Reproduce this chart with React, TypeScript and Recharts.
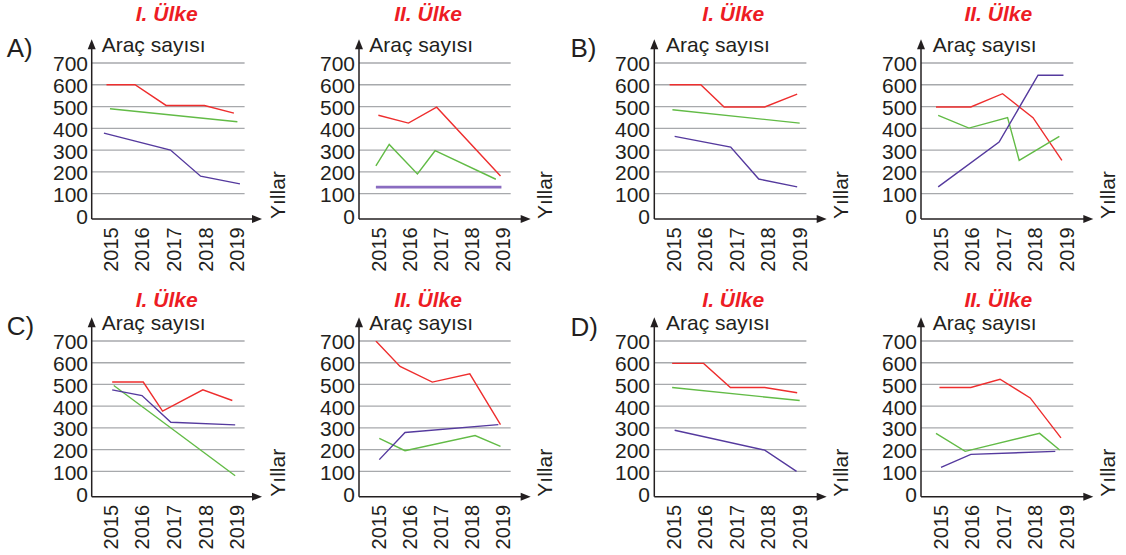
import React from "react";
import { LineChart, Line, XAxis, YAxis, ReferenceLine } from "recharts";

// [yıl, araç sayısı]
const years = [2015, 2016, 2017, 2018, 2019];
const yTicks = [0, 100, 200, 300, 400, 500, 600, 700];
const gridValues = [100, 200, 300, 400, 500, 600, 700];

const aIRed = [[2014.87, 600], [2015.77, 600], [2016.75, 505], [2017.96, 505], [2018.89, 470]];
const aIGreen = [[2014.98, 490], [2019.0, 430]];
const aIPurple = [[2014.79, 378], [2016.89, 300], [2017.84, 180], [2019.08, 145]];

const aIIRed = [[2014.97, 460], [2015.94, 424], [2016.85, 497], [2018.91, 181]];
const aIIGreen = [[2014.89, 227], [2015.32, 326], [2016.23, 190], [2016.8, 297], [2018.76, 166]];
const aIIPurple = [[2014.89, 130], [2018.94, 130]];

const bIRed = [[2014.87, 600], [2015.86, 600], [2016.6, 498], [2017.89, 498], [2018.92, 557]];
const bIGreen = [[2014.96, 485], [2019.0, 424]];
const bIPurple = [[2015.03, 363], [2016.81, 314], [2017.7, 167], [2018.92, 131]];

const bIIRed = [[2014.84, 498], [2015.95, 498], [2016.96, 559], [2017.93, 449], [2018.85, 253]];
const bIIGreen = [[2014.91, 459], [2015.89, 401], [2017.12, 449], [2017.49, 253], [2018.77, 363]];
const bIIPurple = [[2014.91, 131], [2016.85, 337], [2018.09, 644], [2018.9, 644]];

const cIRed = [[2015.05, 511], [2016.03, 511], [2016.64, 377], [2017.91, 475], [2018.84, 426]];
const cIGreen = [[2015.1, 495], [2018.93, 80]];
const cIPurple = [[2015.05, 475], [2015.99, 449], [2016.9, 326], [2018.93, 314]];

const cIIRed = [[2014.89, 700], [2015.67, 583], [2016.71, 511], [2017.92, 549], [2018.91, 315]];
const cIIGreen = [[2015.0, 252], [2015.83, 195], [2018.09, 265], [2018.91, 215]];
const cIIPurple = [[2015.0, 154], [2015.83, 279], [2018.84, 315]];

const dIRed = [[2014.95, 597], [2015.95, 597], [2016.8, 486], [2017.89, 486], [2018.92, 462]];
const dIGreen = [[2014.95, 486], [2019.0, 426]];
const dIPurple = [[2015.03, 289], [2017.89, 198], [2018.9, 100]];

const dIIRed = [[2014.95, 486], [2015.95, 486], [2016.88, 524], [2017.84, 438], [2018.82, 254]];
const dIIGreen = [[2014.84, 275], [2015.77, 192], [2018.14, 275], [2018.78, 198]];
const dIIPurple = [[2015.0, 118], [2015.95, 178], [2018.64, 192]];

const RED = "#ee2e2e";
const GREEN = "#62bb46";
const PURPLE = "#553a9e";
const INK = "#231f20";
const GRID = "#a7a9ac";
const FONT = "'Liberation Sans', Arial, Helvetica, sans-serif";

const cols = [
  { ax: 91.7, gr: 244.3, tip: 262, p15: 110.3, sp: 31.7, yl: 285, ar: 101.7, tc: 166.7 },
  { ax: 359, gr: 510.7, tip: 530.7, p15: 379.3, sp: 31, yl: 552, ar: 369.3, tc: 428 },
  { ax: 654.3, gr: 806.7, tip: 826.7, p15: 674, sp: 31.5, yl: 848, ar: 666, tc: 733.3 },
  { ax: 921, gr: 1073.3, tip: 1093.3, p15: 941, sp: 31.4, yl: 1115, ar: 932.7, tc: 998.3 },
];
const rows = [
  { y7: 62.7, y0: 219, tipY: 39.3, tb: 21, lb: 52 },
  { y7: 340.7, y0: 496.7, tipY: 317.3, tb: 307, lb: 330 },
];

const panels = [
  { col: 0, row: 0, title: "I. Ülke", red: aIRed, green: aIGreen, purple: aIPurple },
  { col: 1, row: 0, title: "II. Ülke", red: aIIRed, green: aIIGreen, purple: aIIPurple, thick: true },
  { col: 2, row: 0, title: "I. Ülke", red: bIRed, green: bIGreen, purple: bIPurple },
  { col: 3, row: 0, title: "II. Ülke", red: bIIRed, green: bIIGreen, purple: bIIPurple },
  { col: 0, row: 1, title: "I. Ülke", red: cIRed, green: cIGreen, purple: cIPurple },
  { col: 1, row: 1, title: "II. Ülke", red: cIIRed, green: cIIGreen, purple: cIIPurple },
  { col: 2, row: 1, title: "I. Ülke", red: dIRed, green: dIGreen, purple: dIPurple },
  { col: 3, row: 1, title: "II. Ülke", red: dIIRed, green: dIIGreen, purple: dIIPurple },
];

const options = [
  { label: "A)", x: 6.7, y: 57.3 },
  { label: "B)", x: 570.5, y: 57.3 },
  { label: "C)", x: 6.7, y: 335 },
  { label: "D)", x: 570.5, y: 336 },
];

const toPts = (s: number[][]) => s.map(([x, y]) => ({ x, y }));

const W_Y = 50;
const H_X = 60;
const PAD = 16;

function YTick({ x, y, payload }: any) {
  return (
    <text x={x - 4} y={y + 1} textAnchor="end" dominantBaseline="central" fontSize={21} fill={INK} fontFamily={FONT}>
      {payload.value}
    </text>
  );
}

function XTick({ x, y, payload }: any) {
  return (
    <g transform={`translate(${x},${y + 8})`}>
      <text transform="rotate(-90)" textAnchor="end" dominantBaseline="central" fontSize={20} fill={INK} fontFamily={FONT}>
        {payload.value}
      </text>
    </g>
  );
}

function Panel({ p }: { p: (typeof panels)[number] }) {
  const c = cols[p.col];
  const r = rows[p.row];
  const d0 = 2015 - (c.p15 - c.ax) / c.sp;
  const d1 = 2015 + (c.gr - c.p15) / c.sp;
  const plotW = c.gr - c.ax;
  const plotH = r.y0 - r.y7;
  return (
    <div style={{ position: "absolute", left: c.ax - W_Y, top: r.y7 - PAD }}>
      <LineChart
        width={W_Y + plotW + PAD}
        height={plotH + H_X + PAD}
        margin={{ top: PAD, right: PAD, bottom: 0, left: 0 }}
      >
        <XAxis
          type="number"
          dataKey="x"
          domain={[d0, d1]}
          ticks={years}
          allowDataOverflow
          height={H_X}
          axisLine={false}
          tickLine={false}
          tickSize={0}
          tickMargin={0}
          tick={<XTick />}
          interval={0}
        />
        <YAxis
          type="number"
          dataKey="y"
          domain={[-18, 700]}
          ticks={yTicks}
          allowDataOverflow
          width={W_Y}
          axisLine={false}
          tickLine={false}
          tickSize={0}
          tickMargin={0}
          tick={<YTick />}
          interval={0}
        />
        {gridValues.map((v) => (
          <ReferenceLine key={v} y={v} stroke={GRID} strokeWidth={1.3} />
        ))}
        <Line data={toPts(p.red)} dataKey="y" stroke={RED} strokeWidth={1.4} dot={false} isAnimationActive={false} />
        <Line data={toPts(p.green)} dataKey="y" stroke={GREEN} strokeWidth={1.4} dot={false} isAnimationActive={false} />
        <Line
          data={toPts(p.purple)}
          dataKey="y"
          stroke={p.thick ? "#8a6cc0" : PURPLE}
          strokeWidth={p.thick ? 2.6 : 1.4}
          dot={false}
          isAnimationActive={false}
        />
      </LineChart>
    </div>
  );
}

function Overlay() {
  return (
    <svg width={1126} height={555} style={{ position: "absolute", left: 0, top: 0, pointerEvents: "none" }}>
      {panels.map((p, i) => {
        const c = cols[p.col];
        const r = rows[p.row];
        return (
          <g key={i} fontFamily={FONT} fill={INK}>
            <line x1={c.ax} y1={r.tipY + 6} x2={c.ax} y2={r.y0} stroke={INK} strokeWidth={1.5} />
            <polygon points={`${c.ax},${r.tipY} ${c.ax - 4},${r.tipY + 10} ${c.ax + 4},${r.tipY + 10}`} fill={INK} />
            <line x1={c.ax} y1={r.y0} x2={c.tip - 6} y2={r.y0} stroke={INK} strokeWidth={1.5} />
            <polygon points={`${c.tip},${r.y0} ${c.tip - 10},${r.y0 - 4} ${c.tip - 10},${r.y0 + 4}`} fill={INK} />
            <text x={c.ar} y={r.lb} fontSize={21}>Araç sayısı</text>
            <text x={c.yl} y={r.y0} fontSize={21} transform={`rotate(-90 ${c.yl} ${r.y0})`}>Yıllar</text>
            <text x={c.tc} y={r.tb} fontSize={21} fontWeight="bold" fontStyle="italic" fill="#ed1c24" textAnchor="middle">
              {p.title}
            </text>
          </g>
        );
      })}
      {options.map((o) => (
        <text key={o.label} x={o.x} y={o.y} fontSize={26} fill={INK} fontFamily={FONT}>
          {o.label}
        </text>
      ))}
    </svg>
  );
}

export default function App() {
  return (
    <div style={{ position: "absolute", left: 0, top: 0, width: 1126, height: 555, background: "#fff", overflow: "hidden" }}>
      {panels.map((p, i) => (
        <Panel key={i} p={p} />
      ))}
      <Overlay />
    </div>
  );
}
